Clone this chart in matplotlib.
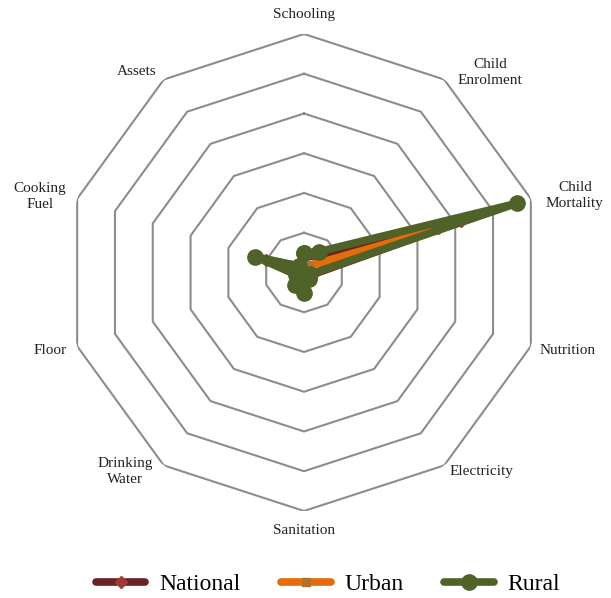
import numpy as np
import matplotlib
matplotlib.use('Agg')
import matplotlib.pyplot as plt

# Indicator names (clockwise from the top)
indicators = ['Schooling', 'Child\nEnrolment', 'Child\nMortality', 'Nutrition', 'Electricity',
              'Sanitation', 'Drinking\nWater', 'Floor', 'Cooking\nFuel', 'Assets']

# Values (percent contribution)
national = [4.0, 5.0, 41.6, 2.0, 2.0, 4.5, 3.5, 2.0, 10.0, 2.0]
urban = [2.5, 2.1, 35.0, 1.5, 1.5, 3.0, 2.5, 1.5, 6.0, 1.5]
rural = [4.9, 6.5, 56.3, 1.5, 2.0, 5.2, 3.9, 2.0, 12.9, 2.0]

rings = [10, 20, 30, 40, 50, 60]
# where each axis label sits (compass degrees, radius)
label_deg = [0, 42.9, 74.2, 106.4, 138.4, 180, 221.9, 253.0, 286.0, 320.2]
label_r = [64.8, 68.8, 70.8, 69.2, 67.1, 64.8, 67.4, 66.8, 69.1, 65.7]

plt.rcParams['font.family'] = ['Liberation Serif', 'DejaVu Serif']

n = len(indicators)
angles = np.linspace(0, 2 * np.pi, n, endpoint=False)
ang_c = np.append(angles, angles[0])

fig = plt.figure(figsize=(6.11, 5.98), dpi=100)
ax = fig.add_axes([0.1072, 0.1455, 0.7807, 0.7977], polar=True)
ax.set_theta_offset(np.pi / 2)
ax.set_theta_direction(-1)
ax.set_ylim(0, 60)
ax.grid(False)
ax.spines['polar'].set_visible(False)
ax.set_xticks([])
ax.set_yticks([])

# decagon gridlines
for r in rings:
    ax.plot(ang_c, [r] * (n + 1), color='#8c8c8c', lw=1.5, zorder=1)

def close(v):
    return list(v) + [v[0]]

ax.plot(ang_c, close(national), color='#6b2222', lw=5.5, marker='D', ms=6,
        mfc='#a23a34', mec='#a23a34', solid_capstyle='round', solid_joinstyle='round',
        label='National', zorder=3)
ax.plot(ang_c, close(urban), color='#e46c0a', lw=5.5, marker='s', ms=6,
        mfc='#b3722c', mec='#b3722c', solid_capstyle='round', solid_joinstyle='round',
        label='Urban', zorder=4)
ax.plot(ang_c, close(rural), color='#4f6228', lw=5.5, marker='o', ms=11,
        mfc='#4f6228', mec='#4f6228', solid_capstyle='round', solid_joinstyle='round',
        label='Rural', zorder=5)

for d, lab, r in zip(label_deg, indicators, label_r):
    ax.text(np.radians(d), r, lab, ha='center', va='center', fontsize=11,
            color='#222222', linespacing=1.3)

fig.legend(loc='center', bbox_to_anchor=(0.537, 0.023), ncol=3, frameon=False,
           fontsize=17, handlelength=2.1, columnspacing=1.7, handletextpad=0.6)

fig.savefig('out.png', dpi=100)
